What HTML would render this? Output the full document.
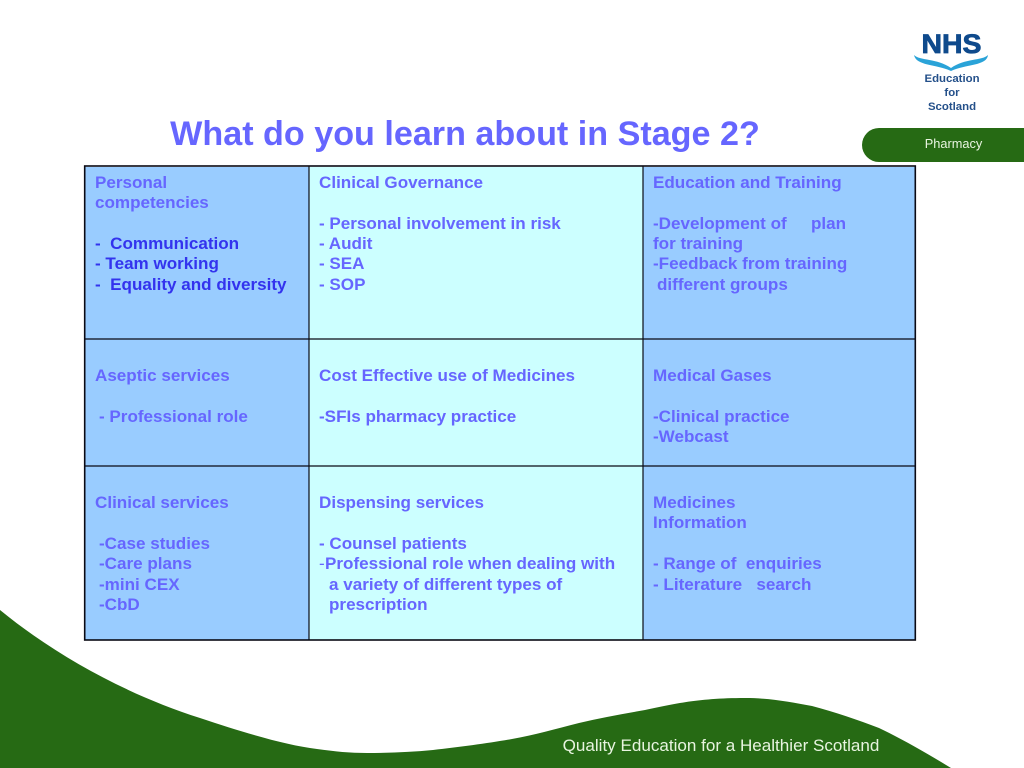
<!DOCTYPE html>
<html><head><meta charset="utf-8"><style>
html,body{margin:0;padding:0;background:#fff;width:1024px;height:768px;overflow:hidden}
svg{display:block}
text{font-family:"Liberation Sans",sans-serif;white-space:pre}
.t{font-size:17.07px;font-weight:bold;fill:#6666ff}
.d{font-size:17.07px;font-weight:bold;fill:#3333ee}
</style></head><body>
<svg width="1024" height="768" viewBox="0 0 1024 768" xmlns="http://www.w3.org/2000/svg" xml:space="preserve">
<path fill="#266a14" d="M0 610 C55 655 125 694 200 718 C245 733 285 745 317 749 C335 751.500 350 753 367 753 C390 753 412 752 433 750 C460 747 490 743 512 739 C535 735 555 729 579 723 C600 718 622 714 645 710 C670 705 695 698 745 698 C770 698 790 702 812 706 C835 712 858 720 879 728 C900 738 925 752 951 768 L0 768 Z"/>
<path fill="#266a14" d="M1024 128 H879 A17 17 0 0 0 879 162 H1024 Z"/>
<text x="953.500" y="148" font-size="12.800" fill="#e8f4e0" text-anchor="middle">Pharmacy</text>
<text x="721" y="751" font-size="17.070" fill="#e8f4e0" text-anchor="middle">Quality Education for a Healthier Scotland</text>
<text x="465" y="145" font-size="34.130" font-weight="bold" fill="#6666ff" text-anchor="middle">What do you learn about in Stage 2?</text>

<rect x="85" y="167" width="224" height="473" fill="#99ccff"/>
<rect x="309" y="167" width="334" height="473" fill="#ccffff"/>
<rect x="643" y="167" width="272" height="473" fill="#99ccff"/>
<g fill="none" stroke="#0a0a14">
<rect x="84.700" y="166" width="830.600" height="474" stroke-width="1.600"/>
<path d="M309 166V640M643 166V640M84 339H916M84 466H916" stroke-width="1.200"/>
</g>

<text class="t" x="95" y="188">Personal</text>
<text class="t" x="95" y="208">competencies</text>
<text class="d" x="95" y="249">-  Communication</text>
<text class="d" x="95" y="269">- Team working</text>
<text class="d" x="95" y="290">-  Equality and diversity</text>

<text class="t" x="319" y="188">Clinical Governance</text>
<text class="t" x="319" y="229">- Personal involvement in risk</text>
<text class="t" x="319" y="249">- Audit</text>
<text class="t" x="319" y="269">- SEA</text>
<text class="t" x="319" y="290">- SOP</text>

<text class="t" x="653" y="188">Education and Training</text>
<text class="t" x="653" y="229">-Development of</text>
<text class="t" x="811" y="229">plan</text>
<text class="t" x="653" y="249">for training</text>
<text class="t" x="653" y="269">-Feedback from training</text>
<text class="t" x="657" y="290">different groups</text>

<text class="t" x="95" y="381">Aseptic services</text>
<text class="t" x="99" y="422">- Professional role</text>
<text class="t" x="319" y="381">Cost Effective use of Medicines</text>
<text class="t" x="319" y="422">-SFIs pharmacy practice</text>
<text class="t" x="653" y="381">Medical Gases</text>
<text class="t" x="653" y="422">-Clinical practice</text>
<text class="t" x="653" y="442">-Webcast</text>

<text class="t" x="95" y="508">Clinical services</text>
<text class="t" x="99" y="549">-Case studies</text>
<text class="t" x="99" y="569">-Care plans</text>
<text class="t" x="99" y="590">-mini CEX</text>
<text class="t" x="99" y="610">-CbD</text>

<text class="t" x="319" y="508">Dispensing services</text>
<text class="t" x="319" y="549">- Counsel patients</text>
<text x="319" y="569" font-size="17.070" fill="#6666ff">-</text>
<text class="t" x="325" y="569">Professional role when dealing with</text>
<text class="t" x="329" y="590">a variety of different types of</text>
<text class="t" x="329" y="610">prescription</text>

<text class="t" x="653" y="508">Medicines</text>
<text class="t" x="653" y="528">Information</text>
<text class="t" x="653" y="569">- Range of  enquiries</text>
<text class="t" x="653" y="590">- Literature   search</text>

<text x="951.500" y="53" font-size="27" font-weight="bold" fill="#0f4a8c" text-anchor="middle" textLength="60" lengthAdjust="spacingAndGlyphs" stroke="#0f4a8c" stroke-width=".8">NHS</text>
<path fill="#2aa3d8" d="M914 55 C920 61 937 58 951 68 C965 58 982 61 988 55 C987 66 966 64 951 71 C936 64 916 66 914 55 Z"/>
<g font-size="11.400" font-weight="bold" fill="#24508a" text-anchor="middle">
<text x="952" y="82">Education</text>
<text x="952" y="96">for</text>
<text x="952" y="110">Scotland</text>
</g>
</svg>
</body></html>
